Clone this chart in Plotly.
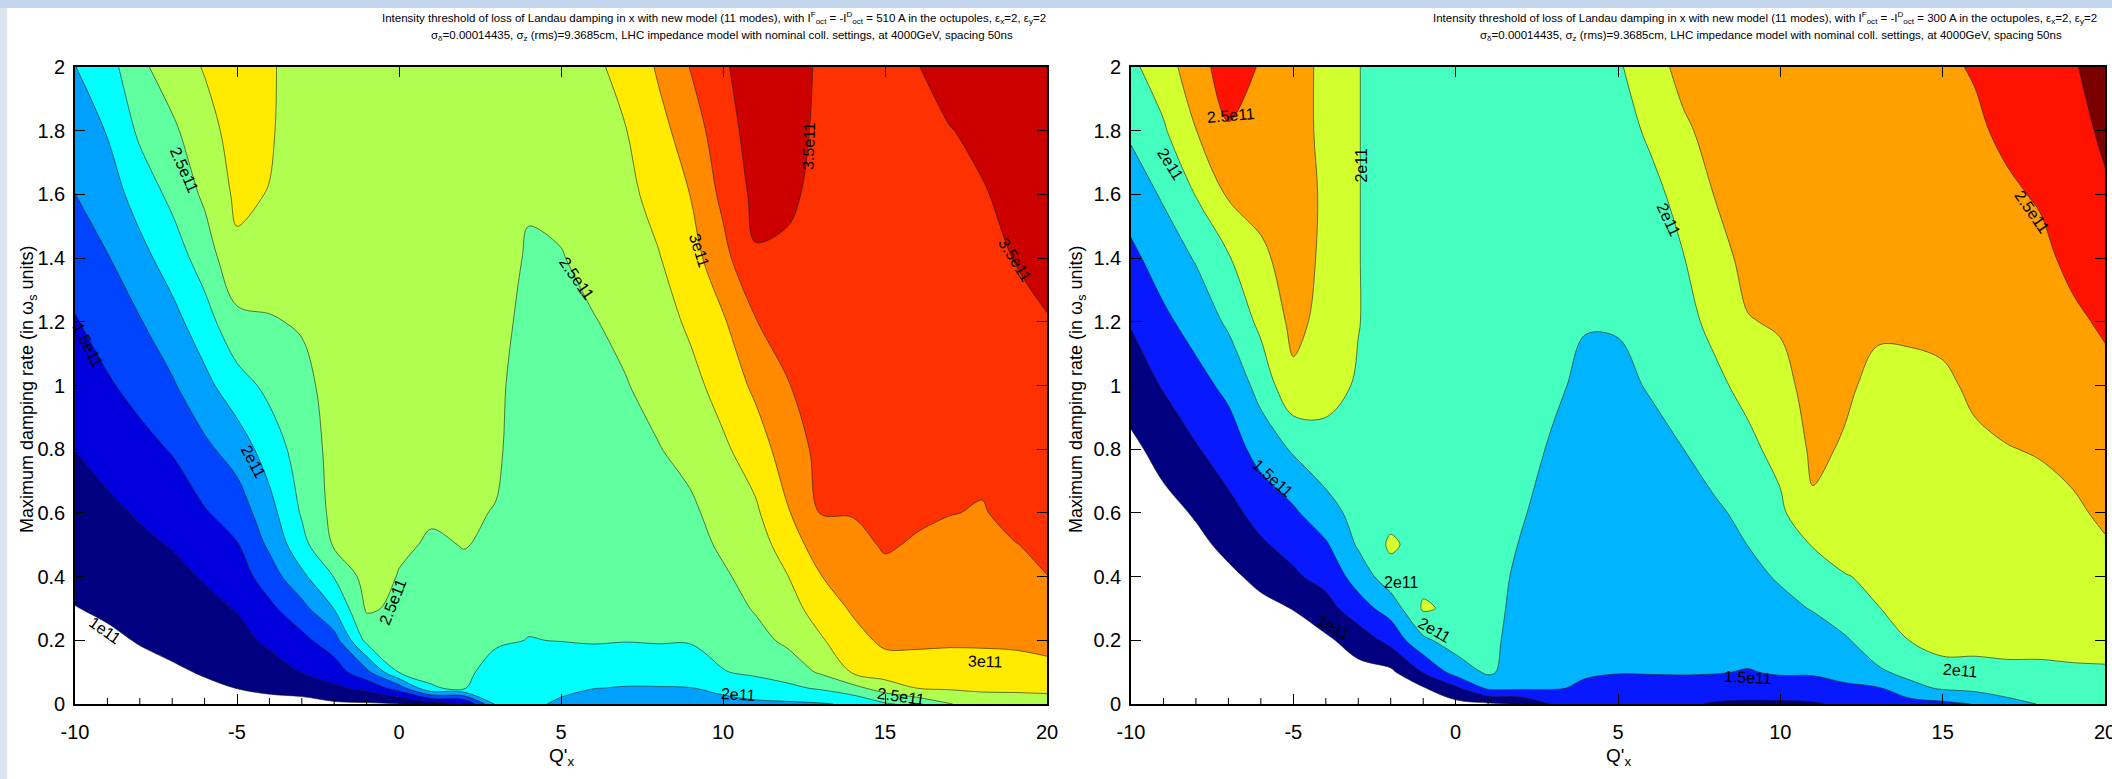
import plotly.graph_objects as go

# ---------------------------------------------------------------------------
# Grid: chromaticity Q'x (columns) and maximum damping rate in omega_s units (rows)
# ---------------------------------------------------------------------------
qprime = list(range(-10, 21))
damping = [0, 0.05, 0.1, 0.2, 0.3, 0.4, 0.5, 0.6, 0.8, 1.0, 1.2, 1.4, 1.6, 1.8, 2.0]

# Intensity threshold (units of 1e11 p/b), octupoles at 510 A, one list per damping row
thr510_r00 = [0.83, 0.86, 0.889, 0.907, 0.932, 0.952, 0.96, 0.93, 0.96, 0.97, 0.99, 1.1, 1.2, 2.05, 2.04, 1.97, 1.9, 1.9, 1.9, 1.9, 1.92, 1.95, 1.96, 1.98, 2.03, 2.22, 2.32, 2.49, 2.6, 2.62, 2.62]
thr510_r01 = [0.86, 0.887, 0.92, 0.94, 0.972, 1.002, 1.025, 1.08, 1.207, 1.314, 1.62, 2.24, 2.27, 2.1, 2.08, 2.04, 2.005, 1.99, 1.99, 1.995, 2.06, 2.14, 2.2, 2.28, 2.42, 2.62, 2.755, 2.78, 2.8, 2.8, 2.82]
thr510_r02 = [0.89, 0.915, 0.95, 0.976, 1.013, 1.055, 1.127, 1.259, 1.371, 1.679, 2.26, 2.28, 2.3, 2.16, 2.13, 2.12, 2.1, 2.08, 2.09, 2.1, 2.24, 2.29, 2.36, 2.53, 2.77, 2.87, 2.9, 2.9, 2.91, 2.91, 2.93]
thr510_r03 = [0.94, 0.97, 1.01, 1.048, 1.097, 1.16, 1.306, 1.431, 1.643, 2.322, 2.33, 2.33, 2.36, 2.28, 2.245, 2.255, 2.27, 2.26, 2.27, 2.27, 2.33, 2.42, 2.55, 2.72, 2.91, 3.05, 3.04, 3.03, 3.03, 3.04, 3.07]
thr510_r04 = [0.995, 1.026, 1.075, 1.119, 1.182, 1.266, 1.444, 1.667, 2.01, 2.53, 2.46, 2.38, 2.42, 2.35, 2.29, 2.28, 2.3, 2.29, 2.31, 2.32, 2.4, 2.52, 2.65, 2.86, 3.03, 3.12, 3.1, 3.09, 3.08, 3.1, 3.16]
thr510_r05 = [1.046, 1.085, 1.14, 1.19, 1.271, 1.375, 1.625, 1.944, 2.26, 2.6, 2.49, 2.43, 2.47, 2.41, 2.31, 2.3, 2.32, 2.32, 2.35, 2.37, 2.47, 2.58, 2.745, 2.99, 3.11, 3.2, 3.17, 3.14, 3.13, 3.17, 3.248]
thr510_r06 = [1.098, 1.144, 1.205, 1.263, 1.375, 1.484, 1.795, 2.167, 2.53, 2.62, 2.53, 2.48, 2.505, 2.48, 2.33, 2.32, 2.34, 2.35, 2.39, 2.42, 2.535, 2.64, 2.86, 3.13, 3.19, 3.27, 3.23, 3.2, 3.19, 3.245, 3.28]
thr510_r07 = [1.15, 1.203, 1.273, 1.347, 1.479, 1.606, 1.909, 2.275, 2.57, 2.63, 2.58, 2.52, 2.53, 2.49, 2.34, 2.33, 2.36, 2.38, 2.42, 2.46, 2.59, 2.71, 2.98, 3.255, 3.26, 3.3, 3.28, 3.255, 3.24, 3.29, 3.31]
thr510_r08 = [1.253, 1.333, 1.424, 1.517, 1.696, 1.859, 2.12, 2.358, 2.58, 2.64, 2.62, 2.58, 2.58, 2.54, 2.35, 2.36, 2.4, 2.44, 2.49, 2.57, 2.71, 2.87, 3.13, 3.31, 3.32, 3.34, 3.33, 3.3, 3.29, 3.35, 3.37]
thr510_r09 = [1.368, 1.472, 1.578, 1.72, 1.929, 2.15, 2.31, 2.44, 2.58, 2.64, 2.64, 2.6, 2.6, 2.56, 2.36, 2.39, 2.45, 2.49, 2.57, 2.68, 2.84, 3.05, 3.24, 3.35, 3.36, 3.37, 3.37, 3.34, 3.33, 3.4, 3.43]
thr510_r10 = [1.483, 1.605, 1.734, 1.914, 2.146, 2.434, 2.483, 2.52, 2.6, 2.65, 2.65, 2.62, 2.62, 2.6, 2.41, 2.43, 2.49, 2.55, 2.65, 2.79, 2.97, 3.24, 3.34, 3.38, 3.39, 3.4, 3.4, 3.38, 3.37, 3.45, 3.49]
thr510_r11 = [1.615, 1.737, 1.917, 2.12, 2.364, 2.7, 2.618, 2.54, 2.62, 2.65, 2.66, 2.63, 2.63, 2.62, 2.47, 2.49, 2.56, 2.62, 2.735, 2.9, 3.17, 3.48, 3.46, 3.41, 3.41, 3.42, 3.43, 3.42, 3.43, 3.505, 3.56]
thr510_r12 = [1.748, 1.875, 2.106, 2.309, 2.544, 2.8, 2.74, 2.55, 2.62, 2.65, 2.66, 2.64, 2.64, 2.63, 2.53, 2.55, 2.62, 2.69, 2.83, 3.005, 3.31, 3.56, 3.54, 3.44, 3.43, 3.44, 3.45, 3.46, 3.48, 3.57, 3.61]
thr510_r13 = [1.878, 2.013, 2.295, 2.456, 2.656, 2.85, 2.79, 2.56, 2.62, 2.65, 2.66, 2.64, 2.64, 2.64, 2.57, 2.6, 2.68, 2.745, 2.92, 3.12, 3.4, 3.6, 3.58, 3.46, 3.45, 3.46, 3.47, 3.49, 3.56, 3.63, 3.66]
thr510_r14 = [1.995, 2.143, 2.45, 2.62, 2.767, 2.9, 2.8, 2.573, 2.62, 2.65, 2.66, 2.64, 2.64, 2.65, 2.6, 2.64, 2.72, 2.8, 3.03, 3.26, 3.47, 3.62, 3.6, 3.47, 3.46, 3.48, 3.49, 3.62, 3.65, 3.68, 3.7]

# Intensity threshold (units of 1e11 p/b), octupoles at 300 A, one list per damping row
thr300_r00 = [0.58, 0.63, 0.67, 0.72, 0.78, 0.82, 0.85, 0.88, 0.88, 0.9, 0.93, 0.96, 1.02, 1.28, 1.4, 1.4, 1.36, 1.3, 1.22, 1.2, 1.2, 1.22, 1.3, 1.35, 1.4, 1.44, 1.51, 1.68, 1.76, 1.79, 1.8]
thr300_r01 = [0.6, 0.65, 0.69, 0.74, 0.8, 0.84, 0.87, 0.9, 0.9, 0.98, 1.2, 1.55, 1.55, 1.52, 1.47, 1.46, 1.44, 1.43, 1.42, 1.4, 1.42, 1.43, 1.47, 1.48, 1.68, 1.78, 1.82, 1.85, 1.87, 1.88, 1.89]
thr300_r02 = [0.62, 0.67, 0.71, 0.77, 0.83, 0.87, 0.9, 0.93, 0.95, 1.26, 1.6, 1.79, 1.62, 1.58, 1.52, 1.505, 1.51, 1.515, 1.51, 1.49, 1.52, 1.52, 1.56, 1.71, 1.82, 1.95, 1.95, 1.96, 1.96, 1.97, 1.97]
thr300_r03 = [0.66, 0.72, 0.76, 0.83, 0.89, 0.93, 0.96, 1.1, 1.33, 1.7, 1.87, 1.81, 1.66, 1.62, 1.57, 1.55, 1.56, 1.57, 1.57, 1.58, 1.62, 1.66, 1.72, 1.9, 2.005, 2.05, 2.05, 2.06, 2.06, 2.07, 2.09]
thr300_r04 = [0.7, 0.77, 0.82, 0.89, 0.95, 1.005, 1.15, 1.4, 1.6, 2.03, 1.95, 1.82, 1.69, 1.65, 1.6, 1.58, 1.59, 1.6, 1.6, 1.64, 1.7, 1.76, 1.9, 1.995, 2.05, 2.09, 2.1, 2.11, 2.11, 2.12, 2.15]
thr300_r05 = [0.74, 0.82, 0.88, 0.96, 1.05, 1.21, 1.34, 1.6, 1.9, 1.93, 1.9, 1.81, 1.72, 1.67, 1.63, 1.61, 1.62, 1.63, 1.64, 1.7, 1.77, 1.9, 1.99, 2.04, 2.09, 2.12, 2.14, 2.15, 2.15, 2.16, 2.19]
thr300_r06 = [0.78, 0.87, 0.95, 1.05, 1.22, 1.33, 1.47, 1.78, 2.04, 1.9, 1.88, 1.8, 1.745, 1.69, 1.65, 1.63, 1.64, 1.66, 1.68, 1.752, 1.88, 2.01, 2.09, 2.07, 2.12, 2.14, 2.17, 2.18, 2.18, 2.19, 2.235]
thr300_r07 = [0.83, 0.93, 1.02, 1.18, 1.33, 1.46, 1.66, 1.83, 1.92, 1.88, 1.86, 1.8, 1.76, 1.71, 1.67, 1.65, 1.67, 1.69, 1.72, 1.8, 1.95, 2.22, 2.15, 2.1, 2.14, 2.16, 2.19, 2.2, 2.2, 2.22, 2.28]
thr300_r08 = [0.95, 1.077, 1.23, 1.37, 1.6, 1.78, 1.9, 1.9, 1.88, 1.86, 1.84, 1.8, 1.78, 1.74, 1.7, 1.68, 1.71, 1.748, 1.84, 1.94, 2.08, 2.29, 2.23, 2.15, 2.18, 2.19, 2.23, 2.245, 2.26, 2.3, 2.36]
thr300_r09 = [1.11, 1.27, 1.417, 1.56, 1.84, 2.2, 2.1, 1.97, 1.87, 1.85, 1.83, 1.8, 1.79, 1.765, 1.73, 1.72, 1.76, 1.85, 1.95, 2.07, 2.19, 2.32, 2.28, 2.2, 2.22, 2.23, 2.27, 2.31, 2.33, 2.38, 2.44]
thr300_r10 = [1.268, 1.45, 1.595, 1.79, 2.06, 2.31, 2.18, 2.01, 1.86, 1.84, 1.82, 1.8, 1.8, 1.78, 1.755, 1.76, 1.82, 1.93, 2.06, 2.24, 2.27, 2.35, 2.32, 2.28, 2.27, 2.28, 2.32, 2.36, 2.39, 2.46, 2.53]
thr300_r11 = [1.445, 1.613, 1.77, 1.98, 2.2, 2.36, 2.2, 2.01, 1.85, 1.83, 1.81, 1.8, 1.81, 1.8, 1.79, 1.8, 1.87, 1.99, 2.17, 2.31, 2.33, 2.38, 2.36, 2.33, 2.32, 2.33, 2.37, 2.41, 2.45, 2.55, 2.62]
thr300_r12 = [1.617, 1.78, 2.01, 2.28, 2.34, 2.4, 2.2, 2.01, 1.85, 1.82, 1.8, 1.8, 1.82, 1.82, 1.82, 1.85, 1.93, 2.08, 2.26, 2.35, 2.38, 2.41, 2.39, 2.37, 2.37, 2.38, 2.42, 2.47, 2.52, 2.61, 2.72]
thr300_r13 = [1.788, 1.97, 2.245, 2.48, 2.42, 2.42, 2.15, 2.01, 1.85, 1.82, 1.8, 1.8, 1.82, 1.83, 1.84, 1.9, 2.04, 2.21, 2.33, 2.39, 2.42, 2.44, 2.42, 2.41, 2.41, 2.43, 2.47, 2.54, 2.6, 2.67, 2.79]
thr300_r14 = [1.95, 2.13, 2.4, 2.62, 2.48, 2.42, 2.15, 2.01, 1.85, 1.82, 1.8, 1.8, 1.82, 1.84, 1.86, 1.97, 2.15, 2.32, 2.4, 2.42, 2.44, 2.46, 2.45, 2.44, 2.45, 2.47, 2.515, 2.6, 2.66, 2.73, 2.84]

# Contour levels (1e11 units)
levels_510 = dict(start=1.0, end=3.5, size=0.25)
levels_300 = dict(start=1.0, end=2.75, size=0.25)

# Tick labels
x_ticks = [-10, -5, 0, 5, 10, 15, 20]
x_tick_text = ["-10", "-5", "0", "5", "10", "15", "20"]
x_minor_ticks = [v for v in range(-10, 21) if v % 5 != 0]
y_ticks = [0, 0.2, 0.4, 0.6, 0.8, 1.0, 1.2, 1.4, 1.6, 1.8, 2.0]
y_tick_text = ["0", "0.2", "0.4", "0.6", "0.8", "1", "1.2", "1.4", "1.6", "1.8", "2"]

# Inline contour labels: (text, Q'x, damping, rotation)
labels_510 = [
    ("1e11", -9.07, 0.232, 35),
    ("1.5e11", -9.59, 1.127, 62),
    ("2e11", -4.5, 0.761, 62),
    ("2.5e11", -6.64, 1.677, 66),
    ("2.5e11", -0.18, 0.321, -68),
    ("2.5e11", 5.49, 1.337, 55),
    ("3e11", 9.27, 1.424, 72),
    ("3.5e11", 12.64, 1.751, -88),
    ("3.5e11", 19.0, 1.395, 58),
    ("3e11", 18.1, 0.134, 2),
    ("2e11", 10.48, 0.03, 3),
    ("2.5e11", 15.5, 0.022, 8),
]
labels_300 = [
    ("2.5e11", -6.93, 1.849, -5),
    ("2e11", -8.78, 1.694, 58),
    ("2e11", -2.9, 1.692, -90),
    ("2e11", 6.55, 1.52, 65),
    ("2.5e11", 17.74, 1.546, 55),
    ("1.5e11", -5.62, 0.709, 42),
    ("1e11", -3.76, 0.24, 30),
    ("2e11", -1.68, 0.38, 0),
    ("2e11", -0.64, 0.23, 30),
    ("1.5e11", 9.0, 0.082, 3),
    ("2e11", 15.55, 0.104, 5),
]

FONT = "Liberation Sans, Arial, sans-serif"
W, H = 2112, 779

# band colours (first entry = below the lowest level, left unpainted)
colors_510 = ["rgba(255,255,255,0)", "#000080", "#0000dc", "#0044ff", "#00a0ff", "#00ffff",
              "#60ffa0", "#b0ff50", "#ffea00", "#ff8a00", "#ff3100", "#cd0000"]
colors_300 = ["rgba(255,255,255,0)", "#000080", "#0818ff", "#00b4ff", "#44ffbf",
              "#d2ff2e", "#ff9f00", "#ff1200", "#7a0000"]


def band_scale(colors):
    n = len(colors) - 1
    return [[i / n, c] for i, c in enumerate(colors)]


z510 = [thr510_r00, thr510_r01, thr510_r02, thr510_r03, thr510_r04, thr510_r05, thr510_r06,
        thr510_r07, thr510_r08, thr510_r09, thr510_r10, thr510_r11, thr510_r12, thr510_r13, thr510_r14]
z300 = [thr300_r00, thr300_r01, thr300_r02, thr300_r03, thr300_r04, thr300_r05, thr300_r06,
        thr300_r07, thr300_r08, thr300_r09, thr300_r10, thr300_r11, thr300_r12, thr300_r13, thr300_r14]

fig = go.Figure()
for z, lev, cols, xa, ya in [(z510, levels_510, colors_510, "x", "y"),
                             (z300, levels_300, colors_300, "x2", "y2")]:
    fig.add_trace(go.Contour(
        x=qprime, y=damping, z=z, xaxis=xa, yaxis=ya,
        autocontour=False,
        contours=dict(coloring="fill", showlines=True, **lev),
        colorscale=band_scale(cols),
        line=dict(color="#1e1e1e", width=0.6),
        showscale=False, hoverinfo="skip",
    ))

# panel geometry in pixels
left_px = (75, 1047)
right_px = (1131, 2105)
top_px, bottom_px = 67, 704
y_dom = [1 - bottom_px / H, 1 - top_px / H]

tickfont = dict(size=20, family=FONT, color="black")
xa_common = dict(range=[-10, 20], tickmode="array", tickvals=x_ticks, ticktext=x_tick_text,
                 ticks="inside", ticklen=10, tickwidth=1.4, tickcolor="black",
                 showline=True, linewidth=1.6, linecolor="black", mirror="ticks",
                 showgrid=False, zeroline=False, tickfont=tickfont, ticklabelstandoff=9,
                 automargin=False, ticklabeloverflow="allow")
ya_common = dict(range=[0, 2], tickmode="array", tickvals=y_ticks, ticktext=y_tick_text,
                 ticks="inside", ticklen=10, tickwidth=1.4, tickcolor="black",
                 showline=True, linewidth=1.6, linecolor="black", mirror="ticks",
                 showgrid=False, zeroline=False, tickfont=tickfont, ticklabelstandoff=4,
                 automargin=False)

fig.update_layout(
    width=W, height=H,
    margin=dict(l=0, r=0, t=0, b=0, autoexpand=False),
    paper_bgcolor="white", plot_bgcolor="white",
    showlegend=False, hovermode=False,
    xaxis=dict(domain=[left_px[0] / W, left_px[1] / W], anchor="y", **xa_common),
    yaxis=dict(domain=y_dom, anchor="x", **ya_common),
    xaxis2=dict(domain=[right_px[0] / W, right_px[1] / W], anchor="y2", **xa_common),
    yaxis2=dict(domain=y_dom, anchor="x2", **ya_common),
)

# window frame strips
fig.add_shape(type="rect", xref="paper", yref="paper", x0=0, x1=1, y0=1 - 8 / H, y1=1,
              fillcolor="#c4d6ee", line=dict(width=0), layer="below")
fig.add_shape(type="rect", xref="paper", yref="paper", x0=0, x1=7 / W, y0=0, y1=1 - 8 / H,
              fillcolor="#dce4ef", line=dict(width=0), layer="below")

# minor x ticks: only visible where the bottom row lies below the lowest level (unfilled area)
minor_len = 6 / (bottom_px - top_px)
for z, lev, xr, yr in [(z510, levels_510, "x", "y domain"), (z300, levels_300, "x2", "y2 domain")]:
    bottom_row = z[0]
    for q in x_minor_ticks:
        if bottom_row[qprime.index(q)] < lev["start"]:
            fig.add_shape(type="line", xref=xr, yref=yr, x0=q, x1=q, y0=0, y1=minor_len,
                          line=dict(color="black", width=1))

ann = []
title_font = dict(size=11.5, family=FONT, color="black")
for cx1, cx2, amps in [(714, 722, "510"), (1765, 1771, "300")]:
    ann.append(dict(
        text=("Intensity threshold of loss of Landau damping in x with new model (11 modes), "
              "with I<sup>F</sup><sub>oct</sub> = -I<sup>D</sup><sub>oct</sub> = " + amps +
              " A in the octupoles, \u03b5<sub>x</sub>=2, \u03b5<sub>y</sub>=2"),
        x=cx1 / W, y=1 - 18 / H, xref="paper", yref="paper", showarrow=False,
        xanchor="center", yanchor="middle", font=title_font))
    ann.append(dict(
        text=("\u03c3<sub>\u03b4</sub>=0.00014435, \u03c3<sub>z</sub> (rms)=9.3685cm, "
              "LHC impedance model with nominal coll. settings, at 4000GeV, spacing 50ns"),
        x=cx2 / W, y=1 - 36 / H, xref="paper", yref="paper", showarrow=False,
        xanchor="center", yanchor="middle", font=title_font))

axis_title_font = dict(size=18, family=FONT, color="black")
for px in (28, 1077):
    ann.append(dict(text="Maximum damping rate (in \u03c9<sub>s</sub> units)",
                    x=px / W, y=1 - 390 / H, xref="paper", yref="paper",
                    showarrow=False, textangle=-90, xanchor="center", yanchor="middle",
                    font=axis_title_font))
for px in ((left_px[0] + left_px[1]) / 2, (right_px[0] + right_px[1]) / 2):
    ann.append(dict(text="Q'<sub>x</sub>", x=px / W, y=1 - 757 / H, xref="paper", yref="paper",
                    showarrow=False, xanchor="center", yanchor="middle",
                    font=dict(size=19, family=FONT, color="black")))

label_font = dict(size=16, family=FONT, color="black")
for labels, xr, yr in [(labels_510, "x", "y"), (labels_300, "x2", "y2")]:
    for txt, qx, dr, ang in labels:
        ann.append(dict(text=txt, x=qx, y=dr, xref=xr, yref=yr, showarrow=False,
                        textangle=ang, font=label_font, xanchor="center", yanchor="middle"))

fig.update_layout(annotations=ann)
fig.write_html("out.html")
